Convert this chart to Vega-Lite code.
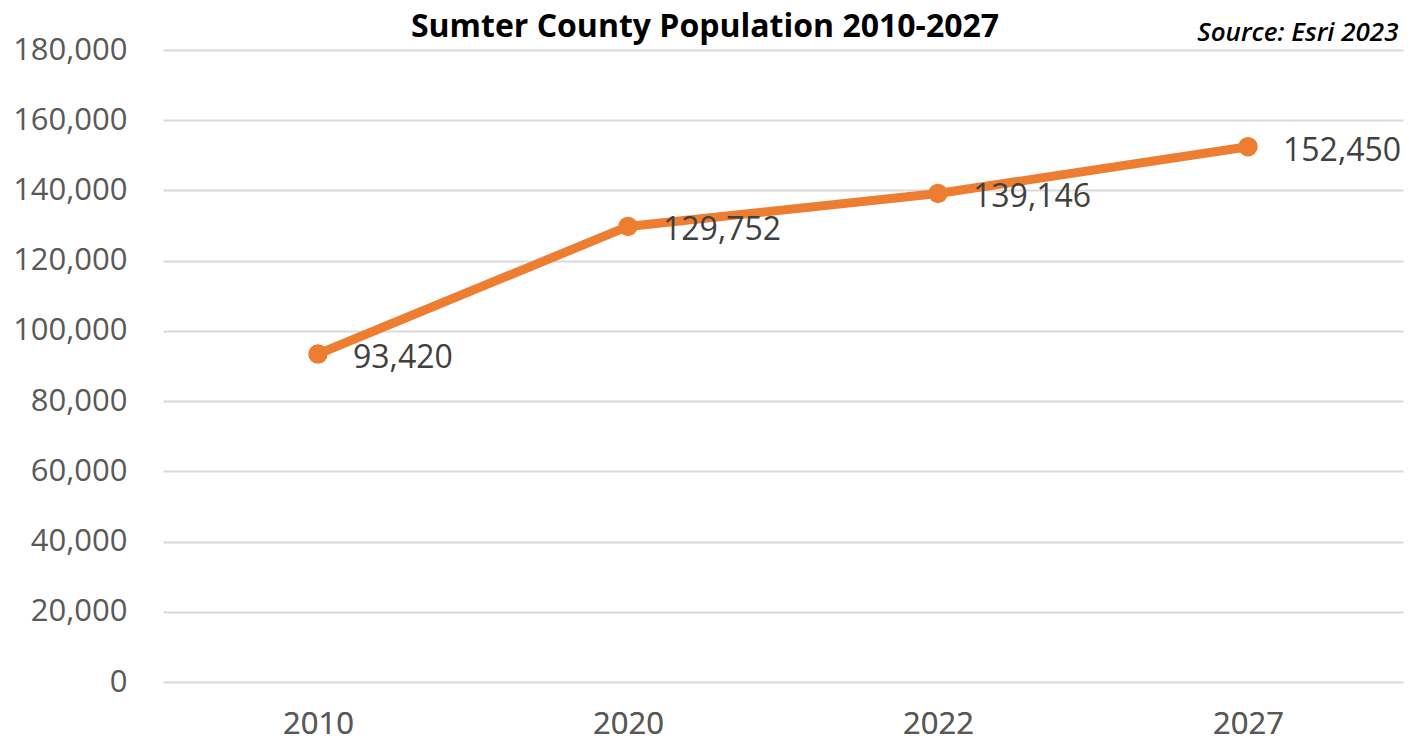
{
  "$schema": "https://vega.github.io/schema/vega-lite/v6.json",
  "width": 1240,
  "height": 632,
  "autosize": "none",
  "padding": {"left": 163, "top": 50, "right": 19, "bottom": 65},
  "background": "white",
  "title": {
    "text": "Sumter County Population 2010-2027",
    "font": "Open Sans",
    "fontSize": 32,
    "fontWeight": "bold",
    "color": "#000000",
    "anchor": "middle",
    "dx": -78,
    "dy": 50,
    "baseline": "alphabetic",
    "offset": 0
  },
  "data": {
    "values": [
      {"year": "2010", "population": 93420},
      {"year": "2020", "population": 129752},
      {"year": "2022", "population": 139146},
      {"year": "2027", "population": 152450}
    ]
  },
  "encoding": {
    "x": {
      "field": "year",
      "type": "ordinal",
      "scale": {"type": "point", "padding": 0.5},
      "axis": {
        "orient": "bottom",
        "title": null,
        "labelAngle": 0,
        "ticks": false,
        "domain": false,
        "grid": false,
        "labelFont": "Open Sans",
        "labelFontSize": 31,
        "labelColor": "#595959",
        "labelPadding": 27
      }
    },
    "y": {
      "field": "population",
      "type": "quantitative",
      "scale": {"domain": [0, 180000], "nice": false},
      "axis": {
        "title": null,
        "values": [0, 20000, 40000, 60000, 80000, 100000, 120000, 140000, 160000, 180000],
        "format": ",d",
        "ticks": false,
        "domain": false,
        "grid": true,
        "gridColor": "#d9d9d9",
        "gridWidth": 2,
        "labelFont": "Open Sans",
        "labelFontSize": 31,
        "labelColor": "#595959",
        "labelPadding": 36
      }
    }
  },
  "layer": [
    {"mark": {"type": "line", "color": "#ED7D31", "strokeWidth": 9}},
    {"mark": {"type": "point", "filled": true, "opacity": 1, "size": 380, "color": "#ED7D31"}},
    {
      "mark": {"type": "text", "align": "left", "baseline": "middle", "dx": 35, "dy": 4, "font": "Open Sans", "fontSize": 32, "color": "#404040"},
      "encoding": {
        "x": {
          "field": "year",
          "type": "ordinal",
          "scale": {"type": "point", "padding": 0.5},
          "axis": {
            "orient": "top",
            "labels": false,
            "labelExpr": "''",
            "labelOpacity": 0,
            "ticks": false,
            "domain": false,
            "grid": false,
            "title": "Source: Esri 2023",
            "titleFont": "Open Sans",
            "titleFontSize": 26,
            "titleFontStyle": "italic",
            "titleFontWeight": 600,
            "titleColor": "#000000",
            "titleAlign": "right",
            "titleAnchor": "end",
            "titleBaseline": "alphabetic",
            "titleX": 1235,
            "titleY": -10
          }
        },
        "text": {"field": "population", "type": "quantitative", "format": ","}
      }
    }
  ],
  "resolve": {"axis": {"x": "independent"}},
  "config": {"view": {"stroke": null}}
}
